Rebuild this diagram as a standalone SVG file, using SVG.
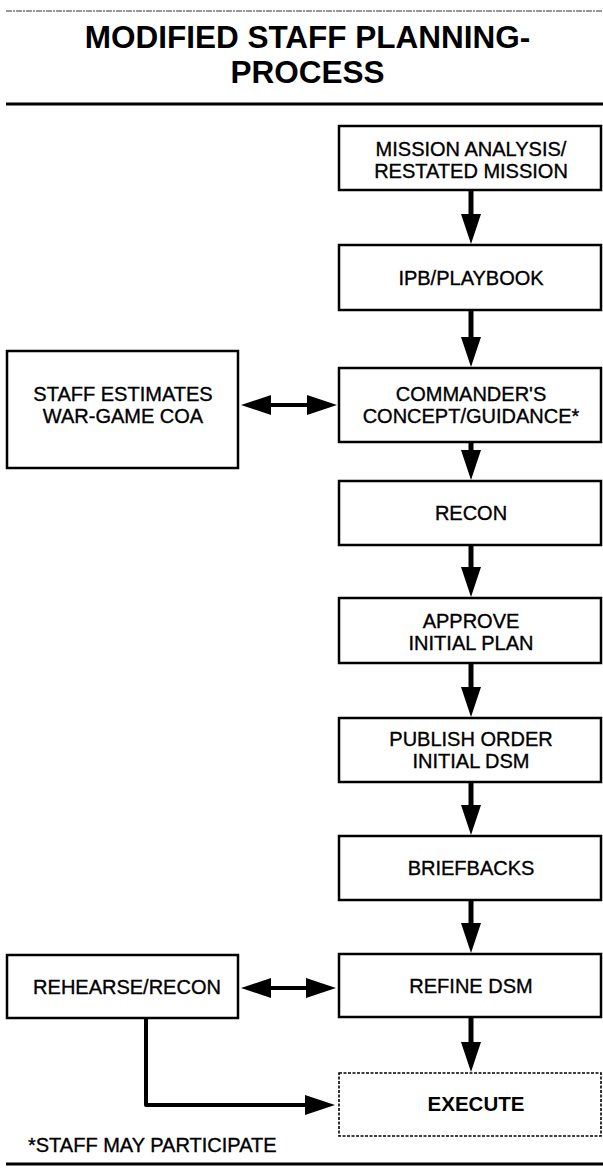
<svg xmlns="http://www.w3.org/2000/svg" width="603" height="1175" viewBox="0 0 603 1175">
<style>
.box{fill:#fff;stroke:#000;stroke-width:2.5}
.dbox{fill:#fff;stroke:#000;stroke-width:1.6;stroke-dasharray:3 1.5}
.t{font-family:"Liberation Sans",Arial,Helvetica,sans-serif;font-size:20px;fill:#000;stroke:#000;stroke-width:0.35;text-anchor:middle}
.tb{font-family:"Liberation Sans",Arial,Helvetica,sans-serif;font-size:20.5px;font-weight:bold;fill:#000;text-anchor:middle}
.title{font-family:"Liberation Sans",Arial,Helvetica,sans-serif;font-size:31.5px;font-weight:bold;fill:#000;text-anchor:middle}
.arr{stroke:#000;stroke-width:5;fill:none;marker-end:url(#ah)}
.bi{stroke:#000;stroke-width:4;fill:none;marker-end:url(#ah);marker-start:url(#ah)}
.rule{stroke:#000;stroke-width:3}
</style>
<defs>
<marker id="ah" markerUnits="userSpaceOnUse" markerWidth="30" markerHeight="20" viewBox="0 0 30 20" refX="0" refY="10" orient="auto-start-reverse">
<path d="M0,0 L30,10 L0,20 z" fill="#000"/>
</marker>
</defs>
<rect width="603" height="1175" fill="#fff"/>
<g id="header">
<line x1="6" y1="11" x2="603" y2="11" stroke="#333" stroke-width="1" stroke-dasharray="6 1 2 1"/>
<text class="title" x="307.5" y="48">MODIFIED STAFF PLANNING-</text>
<text class="title" x="307.5" y="83">PROCESS</text>
<line class="rule" x1="6" y1="104" x2="603" y2="104"/>
</g>
<g id="n-mission">
<rect class="box" x="339" y="126" width="262" height="64"/>
<text class="t" x="471" y="156">MISSION ANALYSIS/</text>
<text class="t" x="471" y="178">RESTATED MISSION</text>
</g>
<g id="n-ipb">
<rect class="box" x="339" y="245" width="262" height="65"/>
<text class="t" x="471" y="285">IPB/PLAYBOOK</text>
</g>
<g id="n-staff">
<rect class="box" x="7" y="351" width="231" height="117"/>
<text class="t" x="123" y="401">STAFF ESTIMATES</text>
<text class="t" x="123" y="423">WAR-GAME COA</text>
</g>
<g id="n-commander">
<rect class="box" x="339" y="368" width="262" height="74"/>
<text class="t" x="471" y="401">COMMANDER'S</text>
<text class="t" x="471" y="423">CONCEPT/GUIDANCE*</text>
</g>
<g id="n-recon">
<rect class="box" x="339" y="481" width="262" height="64"/>
<text class="t" x="471" y="520">RECON</text>
</g>
<g id="n-approve">
<rect class="box" x="339" y="598" width="262" height="65"/>
<text class="t" x="471" y="628">APPROVE</text>
<text class="t" x="471" y="650">INITIAL PLAN</text>
</g>
<g id="n-publish">
<rect class="box" x="339" y="718" width="262" height="64"/>
<text class="t" x="471" y="746">PUBLISH ORDER</text>
<text class="t" x="471" y="768">INITIAL DSM</text>
</g>
<g id="n-briefbacks">
<rect class="box" x="339" y="836" width="262" height="64"/>
<text class="t" x="471" y="875">BRIEFBACKS</text>
</g>
<g id="n-rehearse">
<rect class="box" x="7" y="955" width="231" height="63"/>
<text class="t" x="127" y="994">REHEARSE/RECON</text>
</g>
<g id="n-refine">
<rect class="box" x="339" y="954" width="262" height="63"/>
<text class="t" x="471" y="993">REFINE DSM</text>
</g>
<g id="n-execute">
<rect class="dbox" x="339" y="1073" width="262" height="63"/>
<text class="tb" x="476" y="1111">EXECUTE</text>
</g>
<g id="connectors">
<line class="arr" x1="471" y1="191" x2="471" y2="214"/>
<line class="arr" x1="471" y1="311" x2="471" y2="337"/>
<line class="arr" x1="471" y1="443" x2="471" y2="450"/>
<line class="arr" x1="471" y1="546" x2="471" y2="567"/>
<line class="arr" x1="471" y1="664" x2="471" y2="687"/>
<line class="arr" x1="471" y1="783" x2="471" y2="805"/>
<line class="arr" x1="471" y1="901" x2="471" y2="923"/>
<line class="arr" x1="471" y1="1018" x2="471" y2="1042"/>
<line class="bi" x1="271" y1="405" x2="307" y2="405"/>
<line class="bi" x1="271" y1="988" x2="306" y2="988"/>
<path d="M146,1019 V1105 H305" stroke="#000" stroke-width="4" fill="none" stroke-linejoin="round" marker-end="url(#ah)"/>
</g>
<g id="footer">
<text class="t" x="28" y="1152" style="text-anchor:start">*STAFF MAY PARTICIPATE</text>
<line class="rule" x1="6" y1="1164" x2="603" y2="1164"/>
</g>
</svg>
